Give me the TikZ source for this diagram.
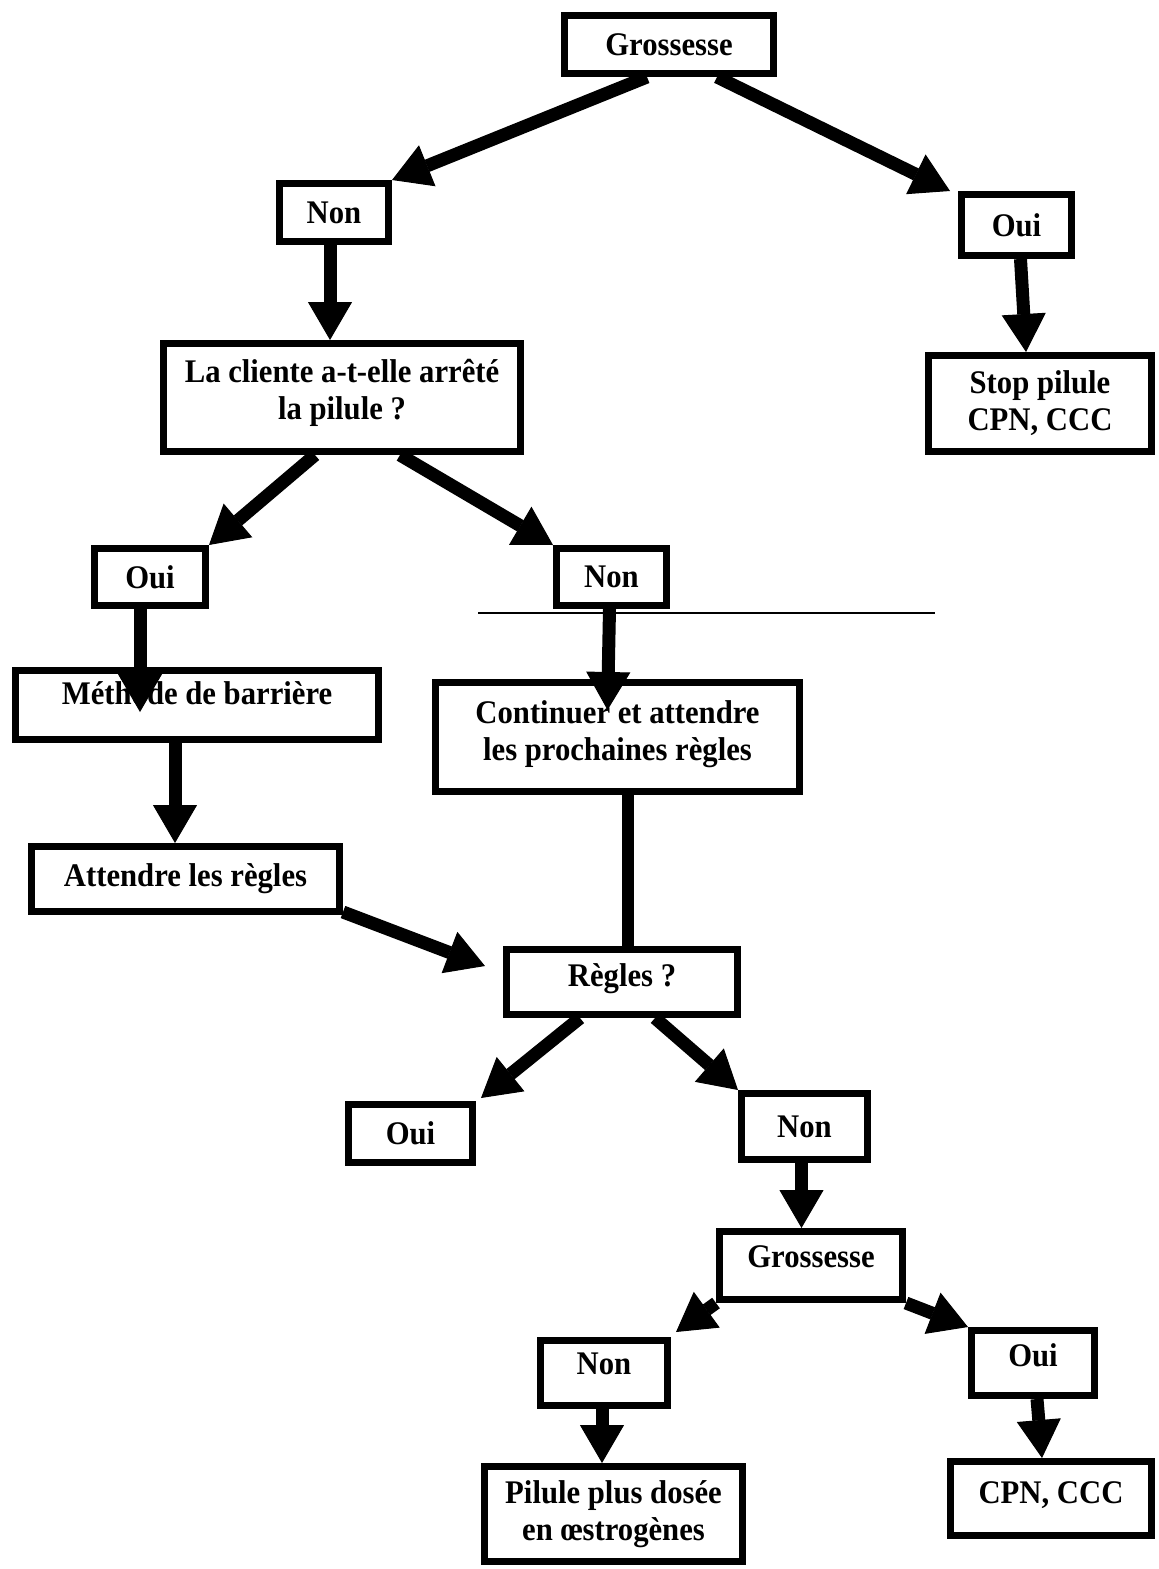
\documentclass[tikz,border=0pt]{standalone}
\usepackage{fontspec}
\setmainfont{Liberation Serif}[FakeStretch=0.93]
\usetikzlibrary{arrows.meta,calc}
\begin{document}
\begin{tikzpicture}[x=1pt,y=-1pt,
  box/.style={draw, line width=7pt, align=center, inner sep=0pt,
    font=\fontsize{33}{37}\selectfont\bfseries},
  arr/.style={line width=13pt, -{Triangle[length=38pt,width=44pt,line width=1pt]}},
  link/.style={line width=12pt},
  rule/.style={line width=1.5pt}]
\useasboundingbox (0,0) rectangle (1159,1569);

% decision boxes (text depth lifts the text inside some boxes)
\node[box, minimum width=209pt, minimum height=58pt]  (g1)   at (669,44.5)    {Grossesse};
\node[box, minimum width=109pt, minimum height=58pt]  (n1)   at (334,212.5)   {Non};
\node[box, minimum width=110pt, minimum height=61pt]  (o1)   at (1016.5,225)  {Oui};
\node[box, minimum width=357pt, minimum height=108pt, text depth=17pt] (q1) at (342,397.5) {La cliente a-t-elle arrêté\\la pilule ?};
\node[box, minimum width=223pt, minimum height=96pt]  (stop) at (1040,403.5)  {Stop pilule\\CPN, CCC};
\node[box, minimum width=111pt, minimum height=57pt]  (o2)   at (150,577)     {Oui};
\node[box, minimum width=110pt, minimum height=57pt]  (n2)   at (611.5,577)   {Non};
\node[box, minimum width=363pt, minimum height=69pt, text depth=23pt] (meth) at (197,705) {Méthode de barrière};
\node[box, minimum width=364pt, minimum height=109pt, text depth=13pt] (cont) at (617.5,737) {Continuer et attendre\\les prochaines règles};
\node[box, minimum width=308pt, minimum height=65pt]  (att)  at (185.5,879)   {Attendre les règles};
\node[box, minimum width=231pt, minimum height=65pt, text depth=14pt] (regles) at (622,982) {Règles ?};
\node[box, minimum width=124pt, minimum height=58pt]  (o3)   at (410.5,1133.5) {Oui};
\node[box, minimum width=126pt, minimum height=66pt]  (n3)   at (804.5,1126.5) {Non};
\node[box, minimum width=183pt, minimum height=68pt, text depth=17pt] (g2) at (811,1265.5) {Grossesse};
\node[box, minimum width=127pt, minimum height=65pt, text depth=19pt] (n4) at (604,1373) {Non};
\node[box, minimum width=123pt, minimum height=65pt, text depth=15pt] (o4) at (1033,1363) {Oui};
\node[box, minimum width=258pt, minimum height=95pt]  (pil)  at (613.5,1514)  {Pilule plus dosée\\en œstrogènes};
\node[box, minimum width=201pt, minimum height=74pt, text depth=11pt] (cpn) at (1051,1498.5) {CPN, CCC};

% thin horizontal rule
\coordinate (hl1) at (478,613);
\coordinate (hl2) at (935,613);
\draw[rule] (hl1) -- (hl2);

% connectors
\draw[arr] ($(g1.south)+(-22,0)$) -- (n1.north east);
\draw[arr] ($(g1.south)+(48,0)$) -- ($(o1.north west)+(-8,0)$);
\draw[arr] ($(n1.south)+(-4,0)$) -- ($(n1.south |- q1.north)+(-4,0)$);
\draw[arr] ($(o1.south)+(4,0)$) -- ($(stop.north)+(-14,0)$);
\draw[arr] ($(q1.south)+(-27,0)$) -- (o2.north east);
\draw[arr] ($(q1.south)+(58,0)$) -- (n2.north west);
\draw[arr] ($(o2.south)+(-10,0)$) -- ($(o2.south |- meth.center)+(-10,7)$);
\draw[arr] ($(meth.south)+(-22,0)$) -- ($(meth.south |- att.north)+(-22,0)$);
\draw[arr] ($(n2.south)+(-2,0)$) -- ($(n2.south |- cont.center)+(-4,-27)$);
\draw[link] ($(cont.south)+(10,0)$) -- ($(cont.south |- regles.north)+(10,0)$);
\draw[arr] ($(att.south east)+(0,-3)$) -- ($(regles.west)+(-18,-16)$);
\draw[arr] ($(regles.south)+(-42,0)$) -- ($(o3.north east)+(5,-3)$);
\draw[arr] ($(regles.south)+(33,0)$) -- (n3.north west);
\draw[arr] ($(n3.south)+(-3,0)$) -- ($(n3.south |- g2.north)+(-3,0)$);
\draw[arr] (g2.south west) -- ($(n4.north east)+(5,-5)$);
\draw[arr] (g2.south east) -- (o4.north west);
\draw[arr] ($(n4.south)+(-2,0)$) -- ($(n4.south |- pil.north)+(-2,0)$);
\draw[arr] ($(o4.south)+(4,0)$) -- ($(cpn.north)+(-9,0)$);
\end{tikzpicture}
\end{document}
